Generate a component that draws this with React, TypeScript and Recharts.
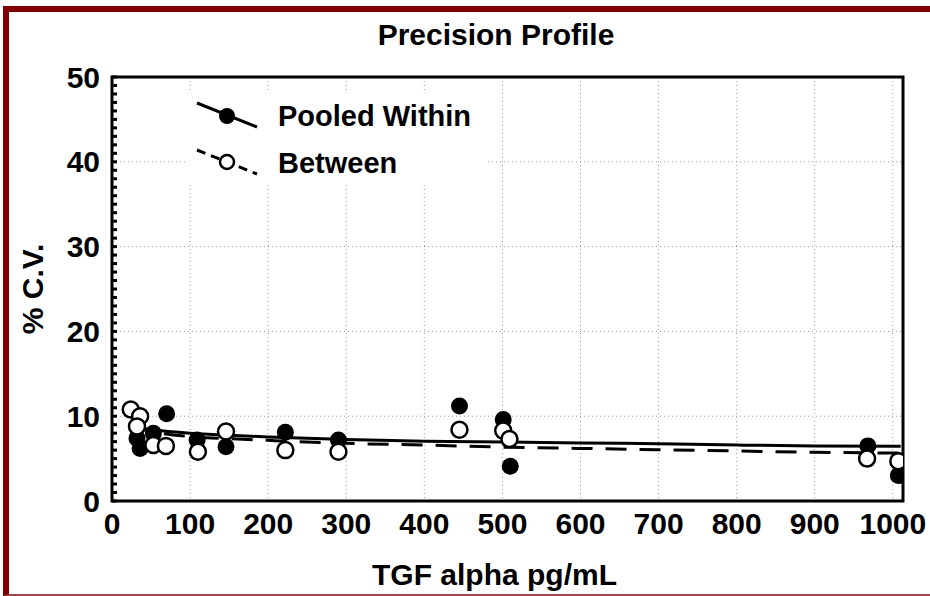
import {
  ComposedChart,
  Scatter,
  Line,
  XAxis,
  YAxis,
  CartesianGrid,
  ReferenceArea,
  Legend,
  Label,
} from 'recharts'

// concentrations (pg/mL) and %CV
const pooledX = [32, 36, 53, 70, 109, 146, 222, 290, 445, 501, 510, 968, 1007]
const pooledCV = [7.4, 6.2, 8.0, 10.3, 7.2, 6.4, 8.1, 7.2, 11.2, 9.6, 4.1, 6.5, 3.0]

const betweenX = [24, 36, 32, 53, 69, 110, 146, 222, 290, 445, 501, 509, 967, 1007]
const betweenCV = [10.8, 10.0, 8.8, 6.6, 6.5, 5.8, 8.2, 6.0, 5.8, 8.4, 8.3, 7.3, 5.0, 4.7]

// fitted precision curves
const fitX = [24, 50, 100, 150, 200, 300, 400, 500, 600, 700, 800, 900, 1010]
const pooledFit = [8.7, 8.4, 8.0, 7.75, 7.55, 7.25, 7.05, 6.95, 6.85, 6.75, 6.6, 6.5, 6.45]
const betweenFit = [8.8, 8.2, 7.6, 7.35, 7.15, 6.8, 6.6, 6.35, 6.2, 6.05, 5.9, 5.75, 5.65]

const xTicks = [0, 100, 200, 300, 400, 500, 600, 700, 800, 900, 1000]
const yTicks = [0, 10, 20, 30, 40, 50]
const xMinorTicks = Array.from({ length: 51 }, (_, i) => i * 20)
const yMinorTicks = Array.from({ length: 51 }, (_, i) => i)

const X_DOMAIN: [number, number] = [0, 1013]
const Y_DOMAIN: [number, number] = [0, 50]
const FONT = '"Liberation Sans", Arial, sans-serif'
const FRAME_RED = '#800000'

const tickStyle = { fill: '#000', fontSize: 30, fontWeight: 'bold', fontFamily: FONT }
const minorTickLine = { stroke: '#000', strokeWidth: 3 }

// minor axes: keep the tick marks, drop the labels
function NoLabel() {
  return <g />
}

function FilledDot(props: any) {
  return <circle cx={props.cx} cy={props.cy} r={8.5} fill="#000" />
}

function OpenDot(props: any) {
  return <circle cx={props.cx} cy={props.cy} r={8} fill="#fff" stroke="#000" strokeWidth={2.5} />
}

function LegendBox() {
  const textStyle = { fontSize: 29, fontWeight: 'bold' as const, fontFamily: FONT, fill: '#000' }
  return (
    <svg width={300} height={92} style={{ display: 'block', background: '#fff' }}>
      <line x1={12} y1={10} x2={72} y2={34} stroke="#000" strokeWidth={3} />
      <circle cx={42} cy={23} r={8} fill="#000" />
      <text x={93} y={33} style={textStyle}>Pooled Within</text>
      <line x1={12} y1={57} x2={72} y2={81} stroke="#000" strokeWidth={3} strokeDasharray="9 6" />
      <circle cx={42} cy={69} r={7} fill="#fff" stroke="#000" strokeWidth={2.5} />
      <text x={93} y={80} style={textStyle}>Between</text>
    </svg>
  )
}

export default function App() {
  const pooled = pooledX.map((x, i) => ({ x, y: pooledCV[i] }))
  const between = betweenX.map((x, i) => ({ x, y: betweenCV[i] }))
  const pooledCurve = fitX.map((x, i) => ({ x, y: pooledFit[i] }))
  const betweenCurve = fitX.map((x, i) => ({ x, y: betweenFit[i] }))

  return (
    <div
      style={{
        position: 'absolute',
        left: 0,
        top: 0,
        width: 930,
        height: 596,
        overflow: 'hidden',
        background: '#fff',
        fontFamily: FONT,
      }}
    >
      <ComposedChart width={930} height={596} margin={{ top: 77, right: 27, bottom: 0, left: 0 }}>
        <CartesianGrid stroke="#999" strokeDasharray="1 3" strokeWidth={1} />
        <XAxis
          dataKey="x"
          type="number"
          domain={X_DOMAIN}
          allowDataOverflow
          ticks={xTicks}
          interval={0}
          tick={tickStyle}
          tickLine={false}
          axisLine={false}
          tickSize={0}
          tickMargin={12}
          height={95}
        >
          <Label
            value="TGF alpha pg/mL"
            position="insideBottom"
            offset={11}
            dx={-13}
            style={{ fontSize: 30, fontWeight: 'bold', fontFamily: FONT, fill: '#000' }}
          />
        </XAxis>
        <YAxis
          type="number"
          domain={Y_DOMAIN}
          allowDataOverflow
          ticks={yTicks}
          interval={0}
          tick={tickStyle}
          tickLine={false}
          axisLine={false}
          tickSize={0}
          tickMargin={12}
          width={112}
        >
          <Label
            value="% C.V."
            angle={-90}
            position="center"
            dx={-24}
            style={{ fontSize: 30, fontWeight: 'bold', fontFamily: FONT, fill: '#000' }}
          />
        </YAxis>
        <XAxis
          xAxisId="minor"
          type="number"
          domain={X_DOMAIN}
          allowDataOverflow
          ticks={xMinorTicks}
          interval={0}
          mirror
          tick={NoLabel}
          axisLine={false}
          tickLine={minorTickLine}
          tickSize={5}
          height={10}
        />
        <YAxis
          yAxisId="minor"
          type="number"
          domain={Y_DOMAIN}
          allowDataOverflow
          ticks={yMinorTicks}
          interval={0}
          mirror
          tick={NoLabel}
          axisLine={false}
          tickLine={minorTickLine}
          tickSize={5}
          width={10}
        />
        <ReferenceArea
          x1={X_DOMAIN[0]}
          x2={X_DOMAIN[1]}
          y1={Y_DOMAIN[0]}
          y2={Y_DOMAIN[1]}
          fill="none"
          stroke="#000"
          strokeWidth={3}
          ifOverflow="visible"
        />
        <Line
          data={pooledCurve}
          dataKey="y"
          type="monotone"
          stroke="#000"
          strokeWidth={3}
          dot={false}
          activeDot={false}
          legendType="none"
          isAnimationActive={false}
        />
        <Line
          data={betweenCurve}
          dataKey="y"
          type="monotone"
          stroke="#000"
          strokeWidth={3}
          strokeDasharray="21 13"
          dot={false}
          activeDot={false}
          legendType="none"
          isAnimationActive={false}
        />
        <Scatter name="Pooled Within" data={pooled} dataKey="y" shape={FilledDot} isAnimationActive={false} />
        <Scatter name="Between" data={between} dataKey="y" shape={OpenDot} isAnimationActive={false} />
        <Legend
          layout="horizontal"
          verticalAlign="middle"
          align="center"
          content={() => <LegendBox />}
          wrapperStyle={{ left: 185, top: 93, width: 300, height: 92 }}
        />
      </ComposedChart>
      <div
        style={{
          position: 'absolute',
          left: 3,
          top: 6,
          width: 1000,
          height: 590,
          boxSizing: 'border-box',
          borderTop: `6px solid ${FRAME_RED}`,
          borderLeft: `6px solid ${FRAME_RED}`,
          borderBottom: '2px solid #a04848',
          pointerEvents: 'none',
        }}
      />
      <div
        style={{
          position: 'absolute',
          left: 0,
          top: 20,
          width: 992,
          textAlign: 'center',
          fontSize: 30,
          lineHeight: '30px',
          fontWeight: 'bold',
          color: '#000',
        }}
      >
        Precision Profile
      </div>
    </div>
  )
}
